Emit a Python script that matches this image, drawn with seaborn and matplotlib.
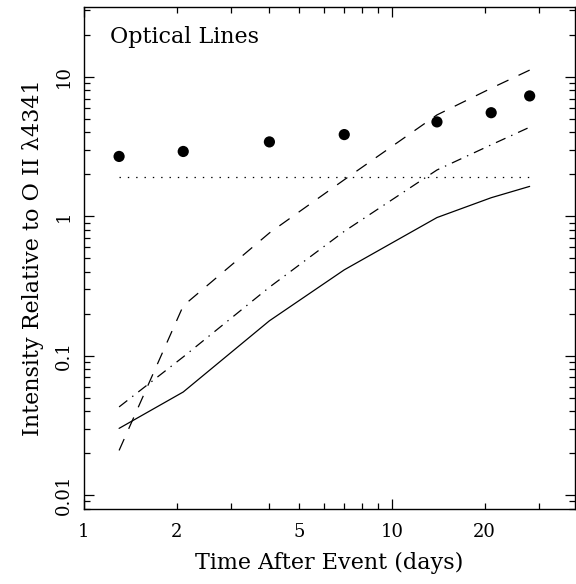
import numpy as np
import pandas as pd
import seaborn as sns
import matplotlib
matplotlib.use("Agg")
import matplotlib.pyplot as plt
from matplotlib.ticker import FixedLocator, FixedFormatter, NullFormatter, LogLocator

# days after event
days = [1.3, 2.1, 4.0, 7.0, 14.0, 21.0, 28.0]
# filled dots
dots = [2.69, 2.92, 3.42, 3.86, 4.76, 5.54, 7.31]
# lines
solid = [0.0301, 0.0549, 0.178, 0.413, 0.98, 1.36, 1.64]
dashed = [0.0209, 0.228, 0.76, 1.83, 5.34, 8.3, 11.2]
dashdot = [0.0429, 0.098, 0.31, 0.78, 2.15, 3.26, 4.36]
dotted_level = 1.90

sns.set_style("ticks")
plt.rcParams['font.family'] = ['DejaVu Serif']
plt.rcParams['lines.scale_dashes'] = False
plt.rcParams['text.color'] = 'black'
plt.rcParams['axes.labelcolor'] = 'black'
plt.rcParams['xtick.color'] = 'black'
plt.rcParams['ytick.color'] = 'black'

df = pd.DataFrame({'days': days, 'dots': dots, 'solid': solid,
                   'dashed': dashed, 'dashdot': dashdot,
                   'dotted': [dotted_level] * len(days)})

fig = plt.figure(figsize=(5.76, 5.84), dpi=100)
ax = fig.add_axes([84 / 576, 1 - 509 / 584, (575 - 84) / 576, (509 - 7) / 584])

lw = 0.9
sns.lineplot(data=df, x='days', y='solid', ax=ax, color='black', lw=lw)
sns.lineplot(data=df, x='days', y='dashed', ax=ax, color='black', lw=lw,
             linestyle=(0, (9, 8)))
sns.lineplot(data=df, x='days', y='dashdot', ax=ax, color='black', lw=lw,
             linestyle=(0, (7.5, 4.5, 1, 4.5)))
sns.lineplot(data=df, x='days', y='dotted', ax=ax, color='black', lw=lw,
             linestyle=(0, (1, 5)))
sns.scatterplot(data=df, x='days', y='dots', ax=ax, color='black', s=65,
                edgecolor='none')

ax.set_xscale('log')
ax.set_yscale('log')
ax.set_xlim(1, 39.3)
ax.set_ylim(10 ** -2.1, 10 ** 1.502)

ax.xaxis.set_major_locator(FixedLocator([1, 10]))
ax.xaxis.set_major_formatter(FixedFormatter(['1', '10']))
xminor = [2, 3, 4, 5, 6, 7, 8, 9, 20, 30]
ax.xaxis.set_minor_locator(FixedLocator(xminor))
ax.xaxis.set_minor_formatter(FixedFormatter(['2', '', '', '5', '', '', '', '', '20', '']))

ax.yaxis.set_major_locator(FixedLocator([0.01, 0.1, 1, 10]))
ax.yaxis.set_major_formatter(FixedFormatter(['0.01', '0.1', '1', '10']))
ax.yaxis.set_minor_locator(LogLocator(base=10, subs=np.arange(2, 10)))
ax.yaxis.set_minor_formatter(NullFormatter())

ax.tick_params(which='both', direction='in', top=True, right=True,
               width=0.9, color='black', labelcolor='black', labelsize=13)
ax.tick_params(which='major', length=7.5)
ax.tick_params(which='minor', length=4.5)
ax.tick_params(axis='x', which='both', pad=10)
ax.tick_params(axis='y', which='both', pad=8)
for lab in ax.get_yticklabels():
    lab.set_rotation(90)
    lab.set_va('center')

for sp in ax.spines.values():
    sp.set_linewidth(1.0)
    sp.set_color('black')

ax.set_xlabel('Time After Event (days)', fontsize=16, labelpad=8)
ax.set_ylabel('Intensity Relative to O II \u03bb4341', fontsize=16, labelpad=8)
ax.text(0.052, 0.962, 'Optical Lines', transform=ax.transAxes, fontsize=16,
        ha='left', va='top')

fig.savefig('out.png', dpi=100)
